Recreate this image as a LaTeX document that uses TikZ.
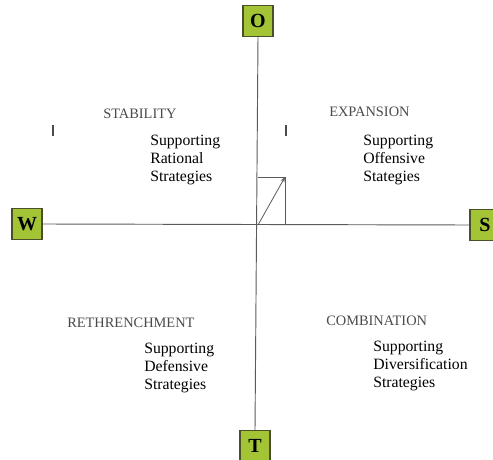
\documentclass[tikz,border=0pt]{standalone}
\usepackage{fontspec}
\setmainfont{Liberation Serif}
\usetikzlibrary{arrows.meta, positioning}
\definecolor{swgreen}{HTML}{A2C435}
\definecolor{swborder}{HTML}{4A4F2A}
\definecolor{swaxis}{HTML}{5A5A5A}
\definecolor{swhead}{HTML}{4A4A4A}

\begin{document}
\begin{tikzpicture}[
  x=0.75pt, y=-0.75pt,
  every node/.style={inner sep=0pt},
  factor/.style={rectangle, draw=swborder, line width=0.8pt, fill=swgreen, minimum width=22.5pt, minimum height=23pt, font=\fontsize{15}{15}\selectfont\bfseries},
  quadrant/.style={anchor=base west, text=swhead, font=\fontsize{10.8}{12}\selectfont},
  strategy/.style={anchor=north west, align=left, font=\fontsize{11.8}{13.5}\selectfont},
  axis/.style={draw=swaxis, line width=0.7pt},
]
\useasboundingbox (0,0) rectangle (493,460);

% SWOT boxes
\node[factor] (O) at (258,21) {O};
\node[factor] (W) at (27,224) {W};
\node[factor] (S) at (485,225) {S};
\node[factor] (T) at (255,446) {T};

% axes
\draw[axis] (O.south) -- (T.north);
\draw[axis] (W.east) -- (S.west);

% resultant vector
\coordinate (orig) at (258,225);
\coordinate (vec) at (285,177);
\draw[axis, line width=0.6pt] (orig |- vec) -- (vec) -- (vec |- orig);
\draw[axis, line width=0.6pt, -{Stealth[length=4pt, width=3pt]}] (orig) -- (vec);

% stray marks
\draw[swhead, line width=0.8pt] (53,125) -- (53,136);
\draw[swhead, line width=0.8pt] (286,125) -- (286,136);

% quadrants
\node[quadrant] (stab) at (103,118) {STABILITY};
\node[quadrant] (expa) at (329,117) {EXPANSION};
\node[quadrant] (retr) at (67,327) {RETHRENCHMENT};
\node[quadrant] (comb) at (326,325) {COMBINATION};

\node[strategy] (rat) at (150,135) {Supporting\\Rational\\Strategies};
\node[strategy] (off) at (363,135) {Supporting\\Offensive\\Stategies};
\node[strategy] (def) at (144,343) {Supporting\\Defensive\\Strategies};
\node[strategy] (div) at (373,341) {Supporting\\Diversification\\Strategies};
\end{tikzpicture}
\end{document}
